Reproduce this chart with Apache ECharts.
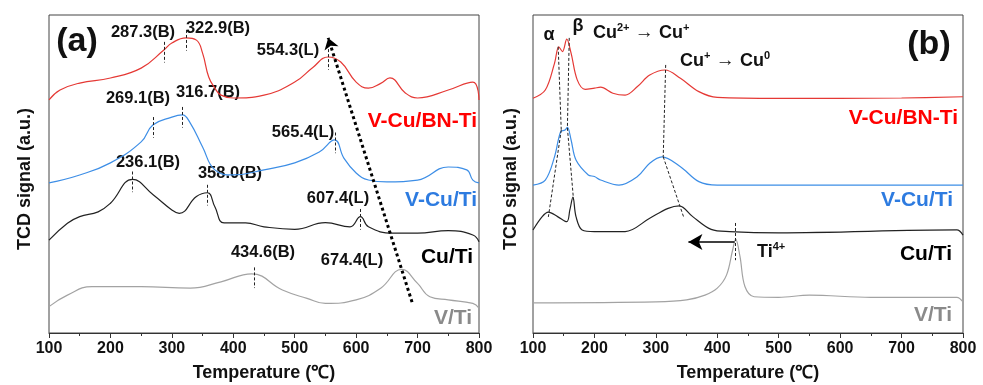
<!DOCTYPE html>
<html>
<head>
<meta charset="utf-8">
<script src="https://cdn.jsdelivr.net/npm/echarts@6/dist/echarts.min.js"></script>
<style>
  html, body { margin: 0; padding: 0; background: #fff; }
  #chart { width: 983px; height: 385px; }
</style>
</head>
<body>
<div id="chart"></div>
<script>
// H2-TPR profiles, [temperature, signal (a.u., stacked)]
// panel (a)
const aBnTi = [[100,73.3],[118,76.4],[150,78.6],[200,80.2],[250,83.3],[287,89],[300,91.2],[323,92.8],[340,92.1],[350,88],[360,80.5],[370,77],[380,74.8],[400,73.9],[450,74.8],[500,78.9],[530,83.6],[554,86.8],[575,85.2],[600,78.9],[620,77],[640,78.5],[655,80.2],[680,75.5],[700,73.9],[750,76.4],[790,78.9],[800,73.3]];
const aVCuTi = [[100,47.2],[150,49.7],[200,53.5],[250,60.1],[269,65.4],[300,67.9],[317,68.6],[330,66],[350,58.5],[370,51.3],[400,49.7],[450,51.3],[500,53.5],[540,56.9],[565,60.7],[580,55],[600,50.3],[620,48.1],[650,47.5],[700,48.1],[750,52.2],[780,51.3],[790,48.1],[800,47.2]];
const aCuTi = [[100,29.2],[130,34.5],[150,36.6],[180,38.1],[200,40.8],[236,48.3],[270,43.4],[300,38.7],[312,37.6],[340,42.9],[358,44.1],[370,39.7],[385,34.6],[420,34.6],[450,33.4],[500,32.6],[550,34.7],[590,33.4],[607,36.6],[620,33.4],[660,31.4],[700,31.4],[750,32.2],[790,30.8],[800,28.7]];
const aVTi = [[100,8.3],[130,11.9],[170,14.6],[250,14.6],[330,14.1],[380,16.1],[430,18.6],[480,13.5],[520,10.9],[550,9.3],[600,10.4],[640,14.1],[674,20],[700,15.6],[720,11.4],[750,10.4],[790,9.3],[800,7.8]];
// panel (b)
const bBnTi = [[100,73.8],[120,76.4],[135,84.8],[142,90],[148,88.5],[155,92.4],[162,88],[172,79.6],[185,76.6],[200,77],[210,77.3],[230,75.4],[250,74.8],[270,77.5],[290,81.1],[315,82.7],[340,80.1],[370,75.9],[400,74.1],[500,73.8],[600,73.8],[700,73.9],[800,74.3]];
const bVCuTi = [[100,46.5],[120,48.1],[135,55.4],[145,63.3],[152,63.8],[156,64.7],[162,60.7],[170,54.4],[190,49.7],[200,49.2],[210,48.1],[240,46.5],[270,49.2],[290,53.4],[310,55.4],[340,52.3],[370,47.6],[400,46.5],[600,46.5],[800,46.5]];
const bCuTi = [[100,32.4],[115,36.6],[125,38],[140,36.6],[155,35],[160,38.7],[165,42.7],[170,36.6],[180,32.4],[200,31.9],[250,31.9],[290,36.1],[320,39.2],[338,40],[360,36.6],[390,32.6],[420,31.9],[500,31.5],[790,32.4],[800,30.8]];
const bVTi = [[100,9.5],[300,9.8],[350,10.4],[380,11.9],[400,14.1],[415,18.2],[425,26.1],[430,29.5],[437,24],[445,14.6],[460,11.4],[500,11.2],[550,11.9],[650,11.2],[790,11.2],[800,9.8]];

// peak positions (°C) and their assignment
const aBnPeaks = [287.3, 322.9, 554.3];
const aVCuPeaks = [269.1, 316.7, 565.4];
const aCuPeaks = [236.1, 358.0, 607.4];
const aVPeaks = [434.6, 674.4];
const aBnTags = ['B', 'B', 'L'];
const aVCuTags = ['B', 'B', 'L'];
const aCuTags = ['B', 'B', 'L'];
const aVTags = ['B', 'L'];

const xTicks = [100, 200, 300, 400, 500, 600, 700, 800];
const sampleNames = ['V-Cu/BN-Ti', 'V-Cu/Ti', 'Cu/Ti', 'V/Ti'];

const FONT = '"Liberation Sans", Arial, sans-serif';
const RED = '#e53935', BLUE = '#3d8ee6', BLACK = '#222', GRAY = '#a3a3a3';
const LBL = ['#ff0000', '#2d7be0', '#000', '#8a8a8a'];

function interp(arr, t) {
  for (let i = 1; i < arr.length; i++) {
    if (arr[i][0] >= t) {
      const [x0, y0] = arr[i - 1], [x1, y1] = arr[i];
      return y0 + (y1 - y0) * (t - x0) / (x1 - x0);
    }
  }
  return arr[arr.length - 1][1];
}
function peakMarks(arr, peaks) {
  return peaks.map(t => {
    const v = interp(arr, t);
    return [{ coord: [t, v + 2.5] }, { coord: [t, v - 4] }];
  });
}

const chart = echarts.init(document.getElementById('chart'), null, { renderer: 'canvas' });

function grid(left) {
  return { left: left, top: 15, width: 430, height: 318, show: true, borderColor: '#444', borderWidth: 1,
    containLabel: false, outerBoundsMode: 'none' };
}
function xAx(i) {
  return {
    type: 'value', gridIndex: i, min: xTicks[0], max: xTicks[xTicks.length - 1], interval: 100,
    name: 'Temperature (℃)', nameLocation: 'middle', nameGap: 31,
    nameTextStyle: { fontSize: 18, fontWeight: 'bold', color: '#111', fontFamily: FONT },
    axisLine: { show: true, lineStyle: { color: '#333', width: 1 } },
    axisTick: { show: true, length: 5, lineStyle: { color: '#333' } },
    minorTick: { show: true, splitNumber: 2, length: 3, lineStyle: { color: '#333' } },
    splitLine: { show: false },
    axisLabel: { fontSize: 16, fontWeight: 'bold', color: '#111', fontFamily: FONT, margin: 8,
      showMinLabel: true, showMaxLabel: true }
  };
}
function yAx(i) {
  return { type: 'value', gridIndex: i, min: 0, max: 100,
    axisLine: { show: false }, axisTick: { show: false }, axisLabel: { show: false }, splitLine: { show: false } };
}
function curve(data, color, ax, marks) {
  const s = { type: 'line', data: data, xAxisIndex: ax, yAxisIndex: ax, showSymbol: false,
    smooth: ax === 0 ? 0.45 : 0.35,
    lineStyle: { color: color, width: 1.2 }, itemStyle: { color: color }, silent: true };
  if (marks) {
    s.markLine = { silent: true, symbol: 'none', label: { show: false },
      lineStyle: { type: [3, 2], color: '#222', width: 1 }, data: marks };
  }
  return s;
}

// text annotations
const txt = (text, x, y, size, color, align, extra) => Object.assign({
  type: 'text', x: x, y: y, silent: true,
  style: { text: text, fontSize: size, fontWeight: 'bold', fontFamily: FONT, fill: color,
    align: align || 'center', verticalAlign: 'middle' }
}, extra || {});

const peakText = (t, tag) => t.toFixed(1) + '(' + tag + ')';
const aLabels = [].concat(
  aBnPeaks.map((t, i) => peakText(t, aBnTags[i])),
  aVCuPeaks.map((t, i) => peakText(t, aVCuTags[i])),
  aCuPeaks.map((t, i) => peakText(t, aCuTags[i])),
  aVPeaks.map((t, i) => peakText(t, aVTags[i]))
);
const aLabelPos = [[143,32],[218,28],[288,50],[138,98],[208,92],[303,132],[148,162],[230,173],[338,198],[263,252],[352,260]];

const supRich = {
  b: { fontSize: 18, fontWeight: 'bold', fontFamily: FONT, fill: '#111', verticalAlign: 'middle', lineHeight: 22 },
  s: { fontSize: 11, fontWeight: 'bold', fontFamily: FONT, fill: '#111', verticalAlign: 'top', lineHeight: 14 },
  r: { fontSize: 19, fontWeight: 'normal', fontFamily: FONT, fill: '#111', verticalAlign: 'middle', lineHeight: 22 }
};
const richTxt = (text, x, y) => ({ type: 'text', x: x, y: y, silent: true,
  style: { text: text, rich: supRich, align: 'left', verticalAlign: 'middle' } });

const graphics = [
  txt('(a)', 77, 42, 34, '#111'),
  txt('(b)', 929, 45, 34, '#111'),
  txt('TCD signal (a.u.)', 25, 179, 18, '#111', 'center', { rotation: Math.PI / 2 }),
  txt('TCD signal (a.u.)', 511, 179, 18, '#111', 'center', { rotation: Math.PI / 2 }),
  txt('α', 549, 35, 18, '#111'),
  txt('β', 578, 26, 18, '#111'),
  richTxt('{b|Cu}{s|2+}{r| → }{b|Cu}{s|+}', 593, 33),
  richTxt('{b|Cu}{s|+}{r| → }{b|Cu}{s|0}', 680, 61),
  richTxt('{b|Ti}{s|4+}', 757, 252)
];
aLabels.forEach((t, i) => graphics.push(txt(t, aLabelPos[i][0], aLabelPos[i][1], 16.5, '#111')));
const aNameY = [121, 200, 257, 318], bNameY = [118, 200, 254, 315];
const aNameX = [477, 477, 473, 472], bNameX = [958, 953, 952, 952];
sampleNames.forEach((n, i) => {
  graphics.push(txt(n, aNameX[i], aNameY[i], 21, LBL[i], 'right'));
  graphics.push(txt(n, bNameX[i], bNameY[i], 21, LBL[i], 'right'));
});

const series = [
  curve(aBnTi, RED, 0, peakMarks(aBnTi, aBnPeaks)),
  curve(aVCuTi, BLUE, 0, peakMarks(aVCuTi, aVCuPeaks)),
  curve(aCuTi, BLACK, 0, peakMarks(aCuTi, aCuPeaks)),
  curve(aVTi, GRAY, 0, peakMarks(aVTi, aVPeaks.slice(0, 1))),
  curve(bBnTi, RED, 1, [
    [{ coord: [141, 90] }, { coord: [146, 63.8] }],
    [{ coord: [146, 63.8] }, { coord: [125, 36.5] }],
    [{ coord: [159, 92.8] }, { coord: [156, 64.5] }],
    [{ coord: [156, 64.5] }, { coord: [166, 41.8] }],
    [{ coord: [316, 84.3] }, { coord: [312, 55.4] }],
    [{ coord: [312, 55.4] }, { coord: [345, 36.6] }]
  ]),
  curve(bVCuTi, BLUE, 1),
  curve(bCuTi, BLACK, 1),
  curve(bVTi, GRAY, 1, [[{ coord: [430, 34.6] }, { coord: [430, 22.9] }]]),
  // trend arrow in (a)
  { type: 'line', data: [], xAxisIndex: 0, yAxisIndex: 0, silent: true,
    markLine: { silent: true, symbol: ['none', 'arrow'], symbolSize: 11, label: { show: false },
      lineStyle: { type: [3, 3], color: '#000', width: 3 },
      data: [[{ coord: [691, 9.7] }, { coord: [554.5, 92.8] }]] } },
  // Ti4+ shift arrow in (b)
  { type: 'line', data: [], xAxisIndex: 1, yAxisIndex: 1, silent: true,
    markLine: { silent: true, symbol: ['none', 'arrow'], symbolSize: [12, 14], label: { show: false },
      lineStyle: { type: 'solid', color: '#000', width: 1.5 },
      data: [[{ coord: [428, 28.6] }, { coord: [353, 28.6] }]] } }
];

chart.setOption({
  animation: false,
  backgroundColor: '#fff',
  grid: [grid(49), grid(533)],
  xAxis: [xAx(0), xAx(1)],
  yAxis: [yAx(0), yAx(1)],
  series: series,
  graphic: graphics
});
</script>
</body>
</html>
